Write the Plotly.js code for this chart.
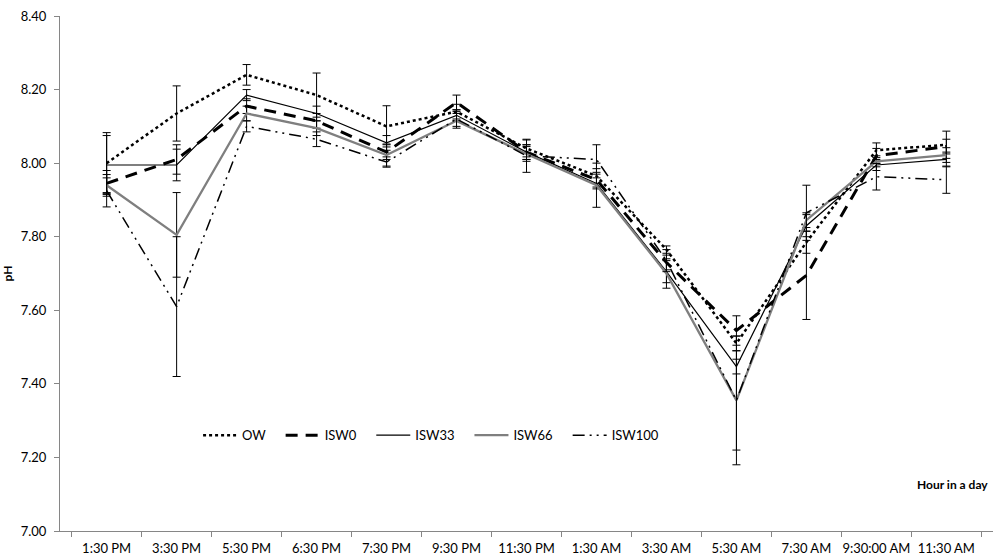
<!DOCTYPE html>
<html>
<head>
<meta charset="utf-8">
<script src="https://cdn.plot.ly/plotly-3.0.1.min.js"></script>
<style>html,body{margin:0;padding:0;background:#fff;}#chart{width:993px;height:560px;}</style>
</head>
<body>
<div id="chart"></div>
<script>
const categories = ['1:30 PM','3:30 PM','5:30 PM','6:30 PM','7:30 PM','9:30 PM','11:30 PM','1:30 AM','3:30 AM','5:30 AM','7:30 AM','9:30:00 AM','11:30 AM'];

const OW     = [8.000, 8.135, 8.240, 8.185, 8.100, 8.140, 8.040, 7.965, 7.765, 7.510, 7.785, 8.035, 8.050];
const ISW0   = [7.945, 8.010, 8.155, 8.115, 8.030, 8.165, 8.030, 7.955, 7.730, 7.545, 7.695, 8.020, 8.045];
const ISW33  = [7.995, 7.995, 8.185, 8.135, 8.055, 8.130, 8.030, 7.945, 7.705, 7.447, 7.830, 7.995, 8.010];
const ISW66  = [7.940, 7.805, 8.135, 8.095, 8.022, 8.115, 8.025, 7.940, 7.700, 7.355, 7.845, 8.005, 8.022];
const ISW100 = [7.925, 7.610, 8.100, 8.065, 8.003, 8.120, 8.020, 8.010, 7.735, 7.355, 7.865, 7.963, 7.955];

const OW_err     = [0.083, 0.075, 0.028, 0.060, 0.056, 0.020, 0.023, 0.020, 0.010, 0.020, 0.030, 0.020, 0.037];
const ISW0_err   = [0.035, 0.040, 0.020, 0.020, 0.020, 0.020, 0.020, 0.020, 0.020, 0.040, 0.120, 0.020, 0.020];
const ISW33_err  = [0.080, 0.043, 0.015, 0.020, 0.020, 0.015, 0.020, 0.015, 0.030, 0.020, 0.030, 0.015, 0.020];
const ISW66_err  = [0.020, 0.115, 0.020, 0.020, 0.030, 0.020, 0.020, 0.060, 0.040, 0.135, 0.020, 0.015, 0.020];
const ISW100_err = [0.044, 0.190, 0.015, 0.020, 0.014, 0.020, 0.045, 0.040, 0.030, 0.175, 0.075, 0.036, 0.037];

const seriesNames = ['OW','ISW0','ISW33','ISW66','ISW100'];
const pad = '\u00a0\u00a0\u00a0';

function errObj(arr){
  return {type:'data', array:arr, visible:true, color:'#000000', thickness:1, width:4};
}

const traces = [
  {x:categories, y:OW, name:seriesNames[0]+pad, mode:'lines', line:{color:'#000000', width:2.5, dash:'dot'}, error_y:errObj(OW_err)},
  {x:categories, y:ISW0, name:seriesNames[1]+pad, mode:'lines', line:{color:'#000000', width:3, dash:'12px,8px'}, error_y:errObj(ISW0_err)},
  {x:categories, y:ISW33, name:seriesNames[2]+pad, mode:'lines', line:{color:'#000000', width:1.2}, error_y:errObj(ISW33_err)},
  {x:categories, y:ISW66, name:seriesNames[3]+pad, mode:'lines', line:{color:'#7f7f7f', width:2.3}, error_y:errObj(ISW66_err)},
  {x:categories, y:ISW100, name:seriesNames[4], mode:'lines', line:{color:'#000000', width:1.5, dash:'12px,5px,2px,5px,2px,5px'}, error_y:errObj(ISW100_err)}
];

const layout = {
  width:993, height:560,
  margin:{l:60, r:0, t:16, b:29},
  paper_bgcolor:'#ffffff', plot_bgcolor:'#ffffff',
  font:{family:'Lato, "Open Sans", Arial, sans-serif', size:12, color:'#000000'},
  showlegend:true,
  legend:{orientation:'h', x:0.148, y:0.186, xanchor:'left', yanchor:'middle', bgcolor:'rgba(0,0,0,0)', font:{size:13}, itemwidth:34},
  xaxis:{
    type:'category', showgrid:false, zeroline:false,
    showline:true, linecolor:'#868686', linewidth:1,
    ticks:'outside', tickson:'boundaries', ticklen:5, tickcolor:'#868686',
    tickfont:{size:13}, tickangle:0, ticklabelstandoff:5, fixedrange:true
  },
  yaxis:{
    range:[7.0, 8.4], dtick:0.2, tickformat:'.2f',
    showgrid:false, zeroline:false,
    showline:true, linecolor:'#868686', linewidth:1,
    ticks:'outside', ticklen:5, tickcolor:'#868686',
    tickfont:{size:13}, ticklabelstandoff:5,
    title:{text:'<b>pH</b>', font:{size:12}, standoff:9}
  },
  annotations:[
    {text:'<b>Hour in a day</b>', xref:'paper', yref:'paper', x:0.997, y:0.091, xanchor:'right', yanchor:'middle', showarrow:false, font:{size:12}}
  ]
};

Plotly.newPlot('chart', traces, layout, {displayModeBar:false, staticPlot:true});
</script>
</body>
</html>
